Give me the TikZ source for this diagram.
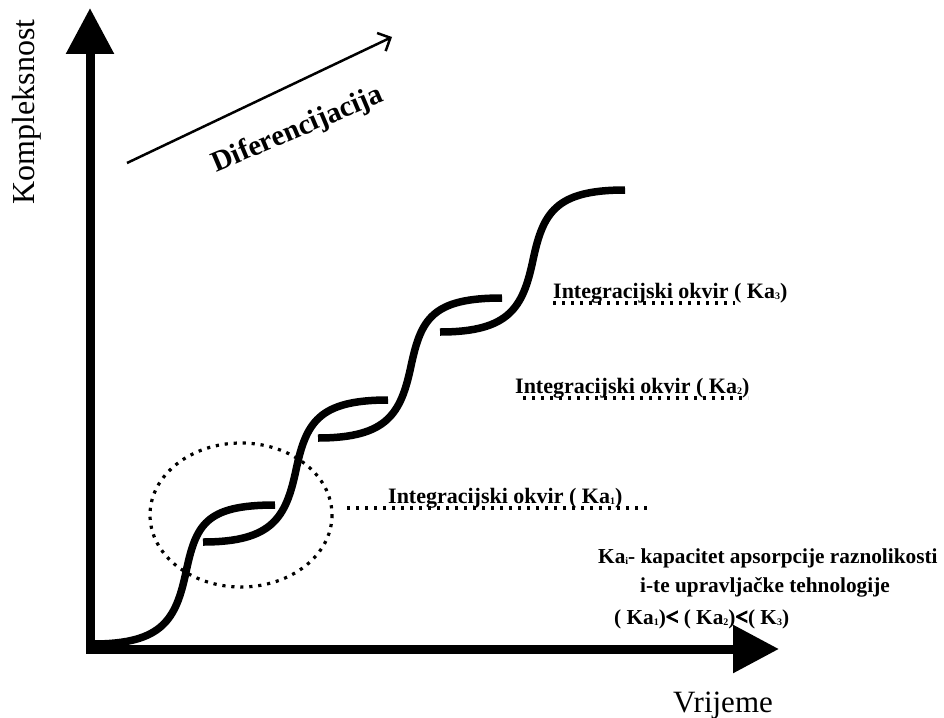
\documentclass[tikz,border=0pt]{standalone}
\usepackage{fontspec}
\setmainfont{Liberation Serif}
\newfontfamily\heavyfont[FakeBold=5]{Liberation Serif Bold}
\usetikzlibrary{arrows.meta,calc}
\tikzset{
  axisline/.style={line width=9pt, line join=miter, -{Triangle[length=46pt,width=46pt]}},
  curvepiece/.style={line width=7.5pt},
  dotline/.style={line width=3.2pt, dash pattern=on 3.2pt off 5.8pt},
  framelabel/.style={font=\fontsize{22}{24}\selectfont\bfseries, anchor=base west, inner sep=0pt},
  notetext/.style={font=\fontsize{21.3}{24}\selectfont\bfseries, anchor=base west, inner sep=0pt},
}
\newcommand{\mysb}[1]{\raisebox{-1.5pt}{\fontsize{10}{10}\selectfont #1}}
\newcommand{\myless}{{\heavyfont\fontsize{22}{24}\selectfont <}}
\newcommand{\mypiece}[2]{%
  \draw[curvepiece] (#1) .. controls +(70,0) and +(-10,47) .. ($(#1)+(93,-72)$)
        .. controls +(10,-47) and +(-70,0) .. (#2);}
\begin{document}
\begin{tikzpicture}[x=1pt,y=-1pt]
\useasboundingbox (0,0) rectangle (944,717);
% axes
\coordinate (O) at (90,649);
\coordinate (ytip) at (90,8);
\coordinate (xtip) at (779,649);
\draw[axisline] (O) -- (ytip);
\draw[axisline] (O) -- (xtip);
\fill ($(O)+(-4.5,4.5)$) rectangle ($(O)+(4.5,-4.5)$);
% axis labels
\node[font=\fontsize{32}{34}\selectfont, rotate=90, inner sep=0pt] (ylab) at (27,112) {Kompleksnost};
\node[font=\fontsize{31}{33}\selectfont, anchor=base, inner sep=0pt] (xlab) at (723,712) {Vrijeme};
% differentiation arrow
\coordinate (d0) at (127,163);
\coordinate (d1) at (392,37);
\draw[line width=2.5pt, -{Straight Barb[length=10pt,width=20pt,line width=2.5pt]}] (d0) -- (d1);
\node[font=\fontsize{29}{31}\selectfont\bfseries, rotate=23, inner sep=0pt] (dlab) at (298,130) {Diferencijacija};
% curve pieces
\coordinate (a0) at (93,644);  \coordinate (a1) at (275,505);
\coordinate (b0) at (203,542); \coordinate (b1) at (388,400);
\coordinate (c0) at (318,438); \coordinate (c1) at (502,298);
\coordinate (e0) at (440,332); \coordinate (e1) at (625,190);
\mypiece{a0}{a1}
\mypiece{b0}{b1}
\mypiece{c0}{c1}
\mypiece{e0}{e1}
% dotted ellipse
\draw[dotline] (241,515) ellipse [x radius=91, y radius=72];
% integration frames
\node[framelabel] (k3) at (553,298) {Integracijski okvir ( Ka\mysb{3})};
\coordinate (k3a) at (553,303); \coordinate (k3b) at (735,303);
\draw[dotline] (k3a) -- (k3b);
\node[framelabel] (k2) at (515,393) {Integracijski okvir ( Ka\mysb{2})};
\coordinate (k2a) at (523,398); \coordinate (k2b) at (748,398);
\draw[dotline] (k2a) -- (k2b);
\node[framelabel] (k1) at (388,503) {Integracijski okvir ( Ka\mysb{1})};
\coordinate (k1a) at (347,508); \coordinate (k1b) at (647,508);
\draw[dotline] (k1a) -- (k1b);
% note
\node[notetext] (n1) at (598,563) {Ka\mysb{i}- kapacitet apsorpcije raznolikosti};
\node[notetext] (n2) at (640,592) {i-te upravljačke tehnologije};
\node[notetext] (n3) at (614,624) {( Ka\mysb{1})\myless\ ( Ka\mysb{2})\myless( K\mysb{3})};
\end{tikzpicture}
\end{document}
